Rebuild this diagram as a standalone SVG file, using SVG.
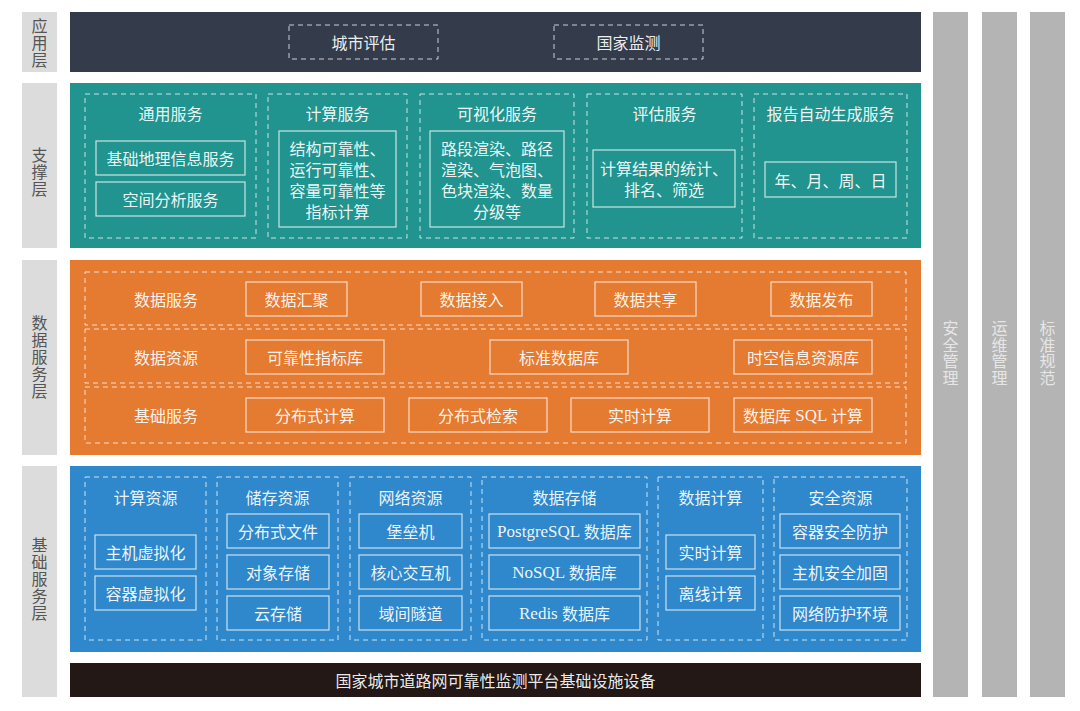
<svg xmlns="http://www.w3.org/2000/svg" width="1080" height="711" viewBox="0 0 1080 711">
<style>
.t{font-family:"Noto Sans CJK SC","Noto Sans",sans-serif;font-size:16px;fill:#ffffff;fill-opacity:0.93;text-anchor:middle;dominant-baseline:central}
.lt{font-family:"Noto Sans CJK SC","Noto Sans",sans-serif;font-size:16px;fill:#555555;text-anchor:middle;writing-mode:vertical-rl;letter-spacing:1px}
.gt{font-family:"Noto Sans CJK SC","Noto Sans",sans-serif;font-size:16px;fill:#e6e6e6;text-anchor:middle;writing-mode:vertical-rl;letter-spacing:0.5px}
.sf{font-family:"Liberation Serif",serif}
.dash{fill:none;stroke:#ffffff;stroke-opacity:0.75;stroke-width:1;stroke-dasharray:5 4}
.box{fill:none;stroke:#ffffff;stroke-opacity:0.75;stroke-width:1.2}
.lab{fill:#dcdcdc}
.side{fill:#b4b4b4}
</style>
<rect width="1080" height="711" fill="#ffffff"/>

<!-- left layer labels -->
<g id="label-app"><rect class="lab" x="22" y="12" width="35" height="60"/>
<text class="lt" x="39.5" y="43">应用层</text></g>
<g id="label-support"><rect class="lab" x="22" y="83" width="35" height="165"/>
<text class="lt" x="39.5" y="172">支撑层</text></g>
<g id="label-data"><rect class="lab" x="22" y="260" width="35" height="195"/>
<text class="lt" x="39.5" y="357">数据服务层</text></g>
<g id="label-base"><rect class="lab" x="22" y="466" width="35" height="231"/>
<text class="lt" x="39.5" y="579">基础服务层</text></g>

<!-- right side columns -->
<g id="side-security"><rect class="side" x="933" y="12" width="35" height="685"/>
<text class="gt" x="950.5" y="353">安全管理</text></g>
<g id="side-ops"><rect class="side" x="982" y="12" width="35" height="685"/>
<text class="gt" x="999.5" y="353">运维管理</text></g>
<g id="side-standard"><rect class="side" x="1030" y="12" width="35" height="685"/>
<text class="gt" x="1047.5" y="353">标准规范</text></g>

<!-- application layer -->
<g id="app-layer">
<rect x="70" y="12" width="851" height="60" fill="#343c4b"/>
<g id="app-city"><rect class="dash" x="289" y="25" width="149" height="34"/><text class="t" x="363.5" y="42">城市评估</text></g>
<g id="app-nation"><rect class="dash" x="554" y="25" width="149" height="34"/><text class="t" x="628.5" y="42">国家监测</text></g>
</g>

<!-- support layer -->
<g id="support-layer">
<rect x="70" y="83" width="851" height="165" fill="#21948f"/>
<g id="sup-common">
<rect class="dash" x="85" y="94" width="171" height="144"/>
<text class="t" x="170.5" y="113">通用服务</text>
<rect class="box" x="96" y="141" width="149" height="34"/><text class="t" x="170.5" y="158">基础地理信息服务</text>
<rect class="box" x="96" y="182" width="149" height="34"/><text class="t" x="170.5" y="199">空间分析服务</text>
</g>
<g id="sup-compute">
<rect class="dash" x="268" y="94" width="139" height="144"/>
<text class="t" x="337.5" y="113">计算服务</text>
<rect class="box" x="279" y="131" width="117" height="96"/>
<text class="t"><tspan x="337.5" y="147.5">结构可靠性、</tspan><tspan x="337.5" y="168.5">运行可靠性、</tspan><tspan x="337.5" y="189.5">容量可靠性等</tspan><tspan x="337.5" y="210.5">指标计算</tspan></text>
</g>
<g id="sup-visual">
<rect class="dash" x="420" y="94" width="154" height="144"/>
<text class="t" x="497" y="113">可视化服务</text>
<rect class="box" x="430" y="131" width="134" height="96"/>
<text class="t"><tspan x="497" y="147.5">路段渲染、路径</tspan><tspan x="497" y="168.5">渲染、气泡图、</tspan><tspan x="497" y="189.5">色块渲染、数量</tspan><tspan x="497" y="210.5">分级等</tspan></text>
</g>
<g id="sup-eval">
<rect class="dash" x="587" y="94" width="155" height="144"/>
<text class="t" x="664.5" y="113">评估服务</text>
<rect class="box" x="593" y="150" width="142" height="57"/>
<text class="t"><tspan x="664" y="168">计算结果的统计、</tspan><tspan x="664" y="189">排名、筛选</tspan></text>
</g>
<g id="sup-report">
<rect class="dash" x="754" y="94" width="153" height="144"/>
<text class="t" x="830.5" y="113">报告自动生成服务</text>
<rect class="box" x="765" y="162" width="131" height="35"/><text class="t" x="830.5" y="179.5">年、月、周、日</text>
</g>
</g>

<!-- data service layer -->
<g id="data-layer">
<rect x="70" y="260" width="851" height="195" fill="#e57a31"/>
<g id="data-row-service">
<rect class="dash" x="85" y="272" width="821" height="53"/>
<text class="t" x="166" y="299">数据服务</text>
<rect class="box" x="246" y="282" width="101" height="34"/><text class="t" x="296.5" y="299">数据汇聚</text>
<rect class="box" x="421" y="282" width="101" height="34"/><text class="t" x="471.5" y="299">数据接入</text>
<rect class="box" x="595" y="282" width="101" height="34"/><text class="t" x="645.5" y="299">数据共享</text>
<rect class="box" x="771" y="282" width="101" height="34"/><text class="t" x="821.5" y="299">数据发布</text>
</g>
<g id="data-row-resource">
<rect class="dash" x="85" y="329" width="821" height="54"/>
<text class="t" x="166" y="357">数据资源</text>
<rect class="box" x="246" y="340" width="138" height="34"/><text class="t" x="315" y="357">可靠性指标库</text>
<rect class="box" x="490" y="340" width="138" height="34"/><text class="t" x="559" y="357">标准数据库</text>
<rect class="box" x="734" y="340" width="138" height="34"/><text class="t" x="803" y="357">时空信息资源库</text>
</g>
<g id="data-row-basic">
<rect class="dash" x="85" y="387" width="821" height="56"/>
<text class="t" x="166" y="415">基础服务</text>
<rect class="box" x="246" y="398" width="138" height="34"/><text class="t" x="315" y="415">分布式计算</text>
<rect class="box" x="409" y="398" width="138" height="34"/><text class="t" x="478" y="415">分布式检索</text>
<rect class="box" x="571" y="398" width="138" height="34"/><text class="t" x="640" y="415">实时计算</text>
<rect class="box" x="734" y="398" width="138" height="34"/><text class="t" x="803" y="415">数据库<tspan class="sf" font-size="17"> SQL </tspan>计算</text>
</g>
</g>

<!-- base service layer -->
<g id="base-layer">
<rect x="70" y="466" width="851" height="186" fill="#2e88cb"/>
<g id="base-compute">
<rect class="dash" x="85" y="477" width="121" height="163"/>
<text class="t" x="145.5" y="497">计算资源</text>
<rect class="box" x="95" y="535" width="101" height="34"/><text class="t" x="145.5" y="552">主机虚拟化</text>
<rect class="box" x="95" y="576" width="101" height="34"/><text class="t" x="145.5" y="593">容器虚拟化</text>
</g>
<g id="base-storage">
<rect class="dash" x="217" y="477" width="121" height="163"/>
<text class="t" x="277.5" y="497">储存资源</text>
<rect class="box" x="227" y="514" width="102" height="34"/><text class="t" x="278" y="531">分布式文件</text>
<rect class="box" x="227" y="555" width="102" height="34"/><text class="t" x="278" y="572">对象存储</text>
<rect class="box" x="227" y="596" width="102" height="34"/><text class="t" x="278" y="613">云存储</text>
</g>
<g id="base-network">
<rect class="dash" x="350" y="477" width="121" height="163"/>
<text class="t" x="410.5" y="497">网络资源</text>
<rect class="box" x="359" y="514" width="103" height="34"/><text class="t" x="410.5" y="531">堡垒机</text>
<rect class="box" x="359" y="555" width="103" height="34"/><text class="t" x="410.5" y="572">核心交互机</text>
<rect class="box" x="359" y="596" width="103" height="34"/><text class="t" x="410.5" y="613">域间隧道</text>
</g>
<g id="base-datastore">
<rect class="dash" x="482" y="477" width="165" height="163"/>
<text class="t" x="564.5" y="497">数据存储</text>
<rect class="box" x="489" y="514" width="151" height="34"/><text class="t" x="564.5" y="531"><tspan class="sf" font-size="17">PostgreSQL </tspan>数据库</text>
<rect class="box" x="489" y="555" width="151" height="34"/><text class="t" x="564.5" y="572"><tspan class="sf" font-size="17">NoSQL </tspan>数据库</text>
<rect class="box" x="489" y="596" width="151" height="34"/><text class="t" x="564.5" y="613"><tspan class="sf" font-size="17">Redis </tspan>数据库</text>
</g>
<g id="base-datacompute">
<rect class="dash" x="658" y="477" width="105" height="163"/>
<text class="t" x="710.5" y="497">数据计算</text>
<rect class="box" x="666" y="535" width="89" height="34"/><text class="t" x="710.5" y="552">实时计算</text>
<rect class="box" x="666" y="576" width="89" height="34"/><text class="t" x="710.5" y="593">离线计算</text>
</g>
<g id="base-security">
<rect class="dash" x="774" y="477" width="133" height="163"/>
<text class="t" x="840.5" y="497">安全资源</text>
<rect class="box" x="780" y="514" width="120" height="34"/><text class="t" x="840" y="531">容器安全防护</text>
<rect class="box" x="780" y="555" width="120" height="34"/><text class="t" x="840" y="572">主机安全加固</text>
<rect class="box" x="780" y="596" width="120" height="34"/><text class="t" x="840" y="613">网络防护环境</text>
</g>
</g>

<!-- infrastructure bar -->
<g id="infra-bar">
<rect x="70" y="663" width="851" height="34" fill="#231815"/>
<text class="t" x="495.5" y="680" font-size="17">国家城市道路网可靠性监测平台基础设施设备</text>
</g>

<g id="connectors"></g>
</svg>
